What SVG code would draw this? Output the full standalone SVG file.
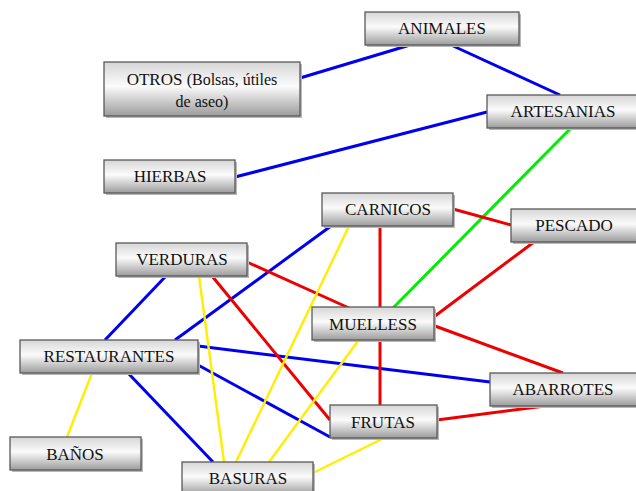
<svg xmlns="http://www.w3.org/2000/svg" width="636" height="491" viewBox="0 0 636 491">
<defs>
<linearGradient id="g" x1="0" y1="0" x2="0" y2="1">
<stop offset="0" stop-color="#d6d6d6"/>
<stop offset="0.45" stop-color="#fbfbfb"/>
<stop offset="1" stop-color="#9c9c9c"/>
</linearGradient>
</defs>
<style>
.box{fill:url(#g);stroke:#5a5a5a;stroke-width:1.3}
.sh{fill:#b8b8b8}
.t{font-size:17px;fill:#111;text-anchor:middle}
.s{font-size:16px}
.b{stroke:#0000ee;stroke-width:3;fill:none}
.r{stroke:#ee0000;stroke-width:3;fill:none}
.y{stroke:#ffee00;stroke-width:2.4;fill:none}
.gr{stroke:#00ee00;stroke-width:3;fill:none}
</style>
<rect width="636" height="491" fill="#fff"/>
<g id="connectors">
<line class="b" x1="410" y1="45" x2="300" y2="78"/>
<line class="b" x1="451" y1="45" x2="560" y2="95"/>
<line class="b" x1="487" y1="112" x2="235" y2="177"/>
<line class="b" x1="166" y1="276" x2="105" y2="340"/>
<line class="b" x1="331" y1="226" x2="175" y2="340"/>
<line class="b" x1="198" y1="346" x2="490" y2="382"/>
<line class="b" x1="198" y1="365" x2="330" y2="437"/>
<line class="b" x1="128" y1="373" x2="213" y2="462"/>
<line class="gr" x1="572" y1="127" x2="393" y2="308"/>
<line class="r" x1="453" y1="209" x2="511" y2="225"/>
<line class="r" x1="380" y1="226" x2="380" y2="308"/>
<line class="r" x1="247" y1="262" x2="349" y2="308"/>
<line class="r" x1="212" y1="276" x2="330" y2="420"/>
<line class="r" x1="534" y1="242" x2="435" y2="316"/>
<line class="r" x1="435" y1="326" x2="563" y2="373"/>
<line class="r" x1="380" y1="341" x2="380" y2="405"/>
<line class="r" x1="437" y1="420" x2="545" y2="406"/>
<line class="y" x1="92" y1="373" x2="67" y2="437"/>
<line class="y" x1="199" y1="276" x2="224" y2="462"/>
<line class="y" x1="349" y1="226" x2="236" y2="462"/>
<line class="y" x1="358" y1="341" x2="269" y2="462"/>
<line class="y" x1="384" y1="438" x2="313" y2="473"/>
</g>
<g font-family="'Liberation Serif', 'DejaVu Serif', serif">
<g id="animales"><rect class="sh" x="367" y="14" width="154" height="33"/><rect class="box" x="365" y="12" width="154" height="33"/><text class="t" x="442" y="34">ANIMALES</text></g>
<g id="otros"><rect class="sh" x="106" y="64" width="196" height="54"/><rect class="box" x="104" y="62" width="196" height="54"/><text class="t" x="202" y="85">OTROS <tspan class="s">(Bolsas, útiles</tspan></text><text class="t s" x="202" y="107">de aseo)</text></g>
<g id="artesanias"><rect class="sh" x="489" y="97" width="150" height="33"/><rect class="box" x="487" y="95" width="152" height="33"/><text class="t" x="563" y="117">ARTESANIAS</text></g>
<g id="hierbas"><rect class="sh" x="106" y="162" width="131" height="33"/><rect class="box" x="104" y="160" width="131" height="33"/><text class="t" x="170" y="182">HIERBAS</text></g>
<g id="carnicos"><rect class="sh" x="324" y="195" width="131" height="33"/><rect class="box" x="322" y="193" width="131" height="33"/><text class="t" x="388" y="215">CARNICOS</text></g>
<g id="pescado"><rect class="sh" x="513" y="211" width="130" height="33"/><rect class="box" x="511" y="209" width="130" height="33"/><text class="t" x="574" y="231">PESCADO</text></g>
<g id="verduras"><rect class="sh" x="118" y="245" width="131" height="33"/><rect class="box" x="116" y="243" width="131" height="33"/><text class="t" x="182" y="265">VERDURAS</text></g>
<g id="muelless"><rect class="sh" x="314" y="309" width="122" height="33"/><rect class="box" x="312" y="307" width="122" height="33"/><text class="t" x="373" y="330">MUELLESS</text></g>
<g id="restaurantes"><rect class="sh" x="22" y="342" width="178" height="33"/><rect class="box" x="20" y="340" width="178" height="33"/><text class="t" x="109" y="362">RESTAURANTES</text></g>
<g id="abarrotes"><rect class="sh" x="492" y="375" width="150" height="33"/><rect class="box" x="490" y="373" width="150" height="33"/><text class="t" x="563" y="395">ABARROTES</text></g>
<g id="frutas"><rect class="sh" x="332" y="407" width="107" height="33"/><rect class="box" x="330" y="405" width="107" height="33"/><text class="t" x="383" y="428">FRUTAS</text></g>
<g id="banos"><rect class="sh" x="12" y="439" width="131" height="33"/><rect class="box" x="10" y="437" width="131" height="33"/><text class="t" x="75" y="460">BAÑOS</text></g>
<g id="basuras"><rect class="sh" x="184" y="464" width="131" height="33"/><rect class="box" x="182" y="462" width="131" height="33"/><text class="t" x="248" y="484">BASURAS</text></g>
</g>
</svg>
